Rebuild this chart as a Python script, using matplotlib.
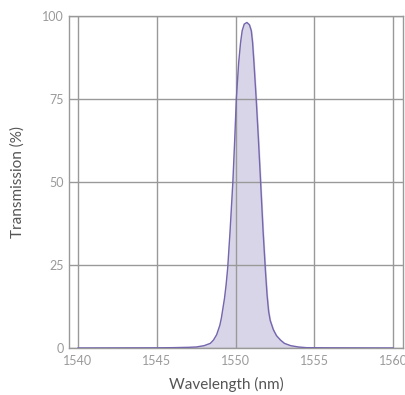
import matplotlib
matplotlib.use('Agg')
import matplotlib.pyplot as plt

# values
wavelength = [1540, 1545, 1546, 1547, 1547.5, 1548, 1548.4, 1548.6, 1548.8,
              1549.0, 1549.1, 1549.2, 1549.3, 1549.4, 1549.5, 1549.65,
              1549.83, 1549.95, 1550.05, 1550.2, 1550.32, 1550.42, 1550.55,
              1550.72, 1550.88, 1551.0, 1551.08, 1551.16, 1551.31, 1551.45,
              1551.59, 1551.75, 1551.9, 1552.0, 1552.1, 1552.2, 1552.4,
              1552.6, 1552.85, 1553.1, 1553.5, 1554.0, 1554.5, 1556, 1560]
transmission = [0, 0.05, 0.1, 0.2, 0.3, 0.7, 1.4, 2.4, 4.0,
                6.8, 9, 12, 15, 19, 24, 35,
                50, 63, 75, 86, 92, 95.5, 97.5,
                98, 97.3, 95.5, 92, 86.5, 75, 63,
                50, 35, 23, 16, 11, 8.3, 5.5,
                3.7, 2.4, 1.4, 0.7, 0.3, 0.1, 0.05, 0]
xticks = [1540, 1545, 1550, 1555, 1560]
yticks = [0, 25, 50, 75, 100]

plt.rcParams['font.family'] = ['Lato', 'DejaVu Sans']

fig = plt.figure(figsize=(4.06, 3.95), dpi=100)
ax = fig.add_axes([0.170, 0.119, 0.823, 0.841])

ax.fill_between(wavelength, transmission, 0, color='#d9d5e8', zorder=1)
ax.plot(wavelength, transmission, color='#7566ad', lw=1.0, zorder=3)

ax.set_xlim(1539.43, 1560.64)
ax.set_ylim(0, 100)
ax.set_xticks(xticks)
ax.set_yticks(yticks)
ax.grid(True, color='#999999', lw=1.0, zorder=2)
ax.set_axisbelow(False)
for s in ax.spines.values():
    s.set_color('#999999')
    s.set_linewidth(1.0)
ax.tick_params(length=0, labelsize=9, labelcolor='#9a9a9a')
ax.tick_params(axis='x', pad=5)
ax.tick_params(axis='y', pad=4)

ax.set_xlabel('Wavelength (nm)', fontsize=11, color='#555555')
ax.xaxis.set_label_coords(0.47, -0.088)
ax.set_ylabel('Transmission (%)', fontsize=11, color='#555555', labelpad=12)

fig.savefig('out.png', dpi=100)
